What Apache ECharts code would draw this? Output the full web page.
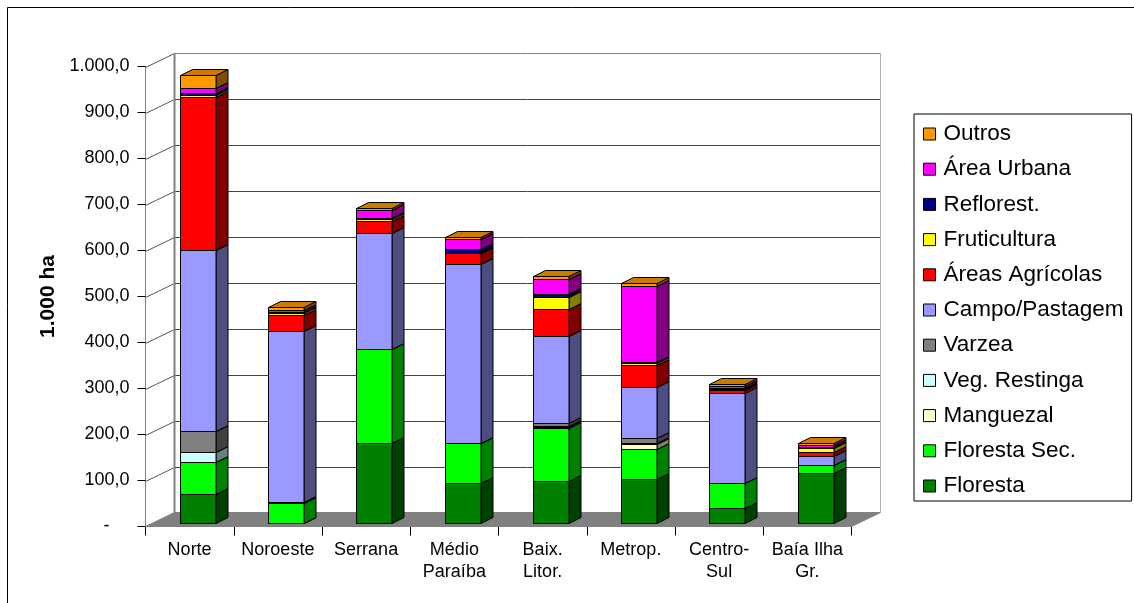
<!DOCTYPE html>
<html>
<head>
<meta charset="utf-8">
<script src="https://cdn.jsdelivr.net/npm/echarts@6/dist/echarts.min.js"></script>
</head>
<body style="margin:0;background:#fff">
<div id="main" style="width:1134px;height:603px;"></div>
<script type="text/javascript">
// regiões do estado (eixo X)
var regioes = ['Norte', 'Noroeste', 'Serrana', 'Médio\nParaíba', 'Baix.\nLitor.', 'Metrop.', 'Centro-\nSul', 'Baía Ilha\nGr.'];

// uso do solo, 1.000 ha
var floresta     = [63, 1, 175, 88, 92, 95, 32, 108];
var florestaSec  = [70, 42, 203, 86, 114, 66, 54, 18];
var manguezal    = [0, 0, 0, 0, 3, 11, 0, 1];
var vegRestinga  = [21, 0, 0, 0, 2, 3, 0, 0];
var varzea       = [45, 2, 0, 1, 6, 10, 0, 0];
var campo        = [394, 373, 252, 388, 190, 110, 197, 19];
var agricolas    = [334, 34, 27, 23, 58, 49, 6, 8];
var fruticultura = [4, 4, 3, 2, 27, 4, 2, 10];
var reflorest    = [4, 3, 2, 7, 5, 3, 2, 2];
var areaUrbana   = [10, 5, 19, 22, 34, 165, 5, 4];
var outros       = [28, 6, 3, 5, 5, 5, 4, 5];

var nomes = ['Floresta', 'Floresta Sec.', 'Manguezal', 'Veg. Restinga', 'Varzea', 'Campo/Pastagem',
             'Áreas Agrícolas', 'Fruticultura', 'Reflorest.', 'Área Urbana', 'Outros'];
var valores = [floresta, florestaSec, manguezal, vegRestinga, varzea, campo,
               agricolas, fruticultura, reflorest, areaUrbana, outros];
var cores = ['#008000', '#00FF00', '#FFFFCC', '#CCFFFF', '#808080', '#9999FF',
             '#FF0000', '#FFFF00', '#000080', '#FF00FF', '#FF9900'];

// eixo Y
var yMax = 1000, yStep = 100;

// profundidade "3D"
var WALL_DX = 29, WALL_DY = -14;     // parede do fundo
var FRONT_DX = 8, FRONT_DY = -3.5;   // face da frente das colunas
var BAR_DX = 12, BAR_DY = -6;        // espessura das colunas

var FONT = "'Liberation Sans', Arial, sans-serif";

function escurecer(hex, f) {
    var n = parseInt(hex.slice(1), 16);
    var r = Math.round(((n >> 16) & 255) * f), g = Math.round(((n >> 8) & 255) * f), b = Math.round((n & 255) * f);
    return 'rgb(' + r + ',' + g + ',' + b + ')';
}

function formataNum(v) {
    if (v === 0) return '-    ';
    var s = Math.floor(v).toString().replace(/\B(?=(\d{3})+(?!\d))/g, '.');
    return s + ',0';
}

function renderParedes(params, api) {
    var cs = params.coordSys;
    var L = cs.x, R = cs.x + cs.width, B = cs.y + cs.height;
    var ch = [];
    ch.push({ type: 'polygon', shape: { points: [[L, B], [R, B], [R + WALL_DX, B + WALL_DY], [L + WALL_DX, B + WALL_DY]] },
        style: { fill: '#808080', stroke: '#808080', lineWidth: 1 } });
    for (var v = yStep; v <= yMax; v += yStep) {
        var y = Math.round(api.coord([0, v])[1]) + 0.5;
        ch.push({ type: 'line', shape: { x1: L, y1: y, x2: L + WALL_DX, y2: y + WALL_DY },
            style: { stroke: '#555', lineWidth: 1 } });
        ch.push({ type: 'line', shape: { x1: L + WALL_DX, y1: y + WALL_DY, x2: R + WALL_DX, y2: y + WALL_DY },
            style: { stroke: v === yMax ? '#808080' : '#444', lineWidth: 1 } });
    }
    var yTop = Math.round(api.coord([0, yMax])[1]) + 0.5 + WALL_DY;
    ch.push({ type: 'line', shape: { x1: L + WALL_DX, y1: yTop, x2: L + WALL_DX, y2: B + WALL_DY },
        style: { stroke: '#808080', lineWidth: 2 } });
    ch.push({ type: 'line', shape: { x1: R + WALL_DX, y1: yTop, x2: R + WALL_DX, y2: B + WALL_DY },
        style: { stroke: '#b0b0b0', lineWidth: 1 } });
    return { type: 'group', children: ch };
}

function renderColuna(params, api) {
    var cat = api.value(0), base = api.value(1), topo = api.value(2);
    if (topo - base <= 0) return null;
    var p0 = api.coord([cat, base]);
    var p1 = api.coord([cat, topo]);
    var w = api.size([1, 0])[0] * 0.4;
    var x0 = Math.round(p0[0] - w / 2 + FRONT_DX) + 0.5, x1 = Math.round(x0 + w);
    var yb = Math.round(p0[1] + FRONT_DY) + 0.5, yt = Math.round(p1[1] + FRONT_DY) + 0.5;
    var c = cores[params.seriesIndex - 1];
    var borda = { stroke: '#000', lineWidth: 1 };
    return {
        type: 'group',
        children: [
            { type: 'polygon', shape: { points: [[x1, yb], [x1 + BAR_DX, yb + BAR_DY], [x1 + BAR_DX, yt + BAR_DY], [x1, yt]] },
              style: Object.assign({ fill: escurecer(c, 0.5) }, borda) },
            { type: 'polygon', shape: { points: [[x0, yt], [x1, yt], [x1 + BAR_DX, yt + BAR_DY], [x0 + BAR_DX, yt + BAR_DY]] },
              style: Object.assign({ fill: escurecer(c, 0.8) }, borda) },
            { type: 'rect', shape: { x: x0, y: yt, width: x1 - x0, height: yb - yt },
              style: Object.assign({ fill: c }, borda) }
        ]
    };
}

var series = [{
    type: 'custom',
    name: '_paredes',
    renderItem: renderParedes,
    data: [[0, 0]],
    silent: true,
    z: 1
}];

var acumulado = regioes.map(function () { return 0; });
for (var s = 0; s < nomes.length; s++) {
    var dados = [];
    for (var i = 0; i < regioes.length; i++) {
        var b = acumulado[i];
        acumulado[i] += valores[s][i];
        dados.push([i, b, acumulado[i]]);
    }
    series.push({
        type: 'custom',
        name: nomes[s],
        renderItem: renderColuna,
        encode: { x: 0, y: [1, 2] },
        itemStyle: { color: cores[s], borderColor: '#000', borderWidth: 1 },
        data: dados,
        z: 2
    });
}

var myChart = echarts.init(document.getElementById('main'));
var option = {
    animation: false,
    backgroundColor: '#fff',
    graphic: [{
        type: 'rect', silent: true,
        shape: { x: 7.5, y: 7.5, width: 1140, height: 610 },
        style: { fill: 'none', stroke: '#000', lineWidth: 1 }
    }],
    grid: { left: 145.5, top: 66.5, width: 706, height: 460 },
    legend: {
        orient: 'vertical',
        left: 914, top: 114,
        data: nomes.slice().reverse(),
        icon: 'rect',
        itemWidth: 12, itemHeight: 12, itemGap: 11.2,
        padding: [8, 8, 3, 9],
        borderColor: '#000', borderWidth: 1,
        selectedMode: false,
        itemStyle: { borderColor: '#000', borderWidth: 1 },
        textStyle: { fontSize: 22.5, fontFamily: FONT, color: '#000', lineHeight: 24, padding: [0, 0, 0, 3] }
    },
    xAxis: {
        type: 'category',
        data: regioes,
        axisLine: { lineStyle: { color: '#000', width: 1 } },
        axisTick: { show: true, length: 9, lineStyle: { color: '#000' } },
        axisLabel: { color: '#000', fontSize: 18, fontFamily: FONT, margin: 13, lineHeight: 22, interval: 0 },
        splitLine: { show: false }
    },
    yAxis: {
        type: 'value',
        min: 0, max: yMax, interval: yStep,
        name: '1.000 ha',
        nameLocation: 'middle',
        nameGap: 84,
        nameRotate: 90,
        nameTextStyle: { fontSize: 21, fontWeight: 'bold', fontFamily: FONT, color: '#000' },
        axisLine: { show: true, lineStyle: { color: '#808080', width: 1 } },
        axisTick: { show: true, length: 8, lineStyle: { color: '#000' } },
        axisLabel: { color: '#000', fontSize: 18, fontFamily: FONT, margin: 16, formatter: formataNum },
        splitLine: { show: false }
    },
    series: series
};
myChart.setOption(option);
</script>
</body>
</html>
